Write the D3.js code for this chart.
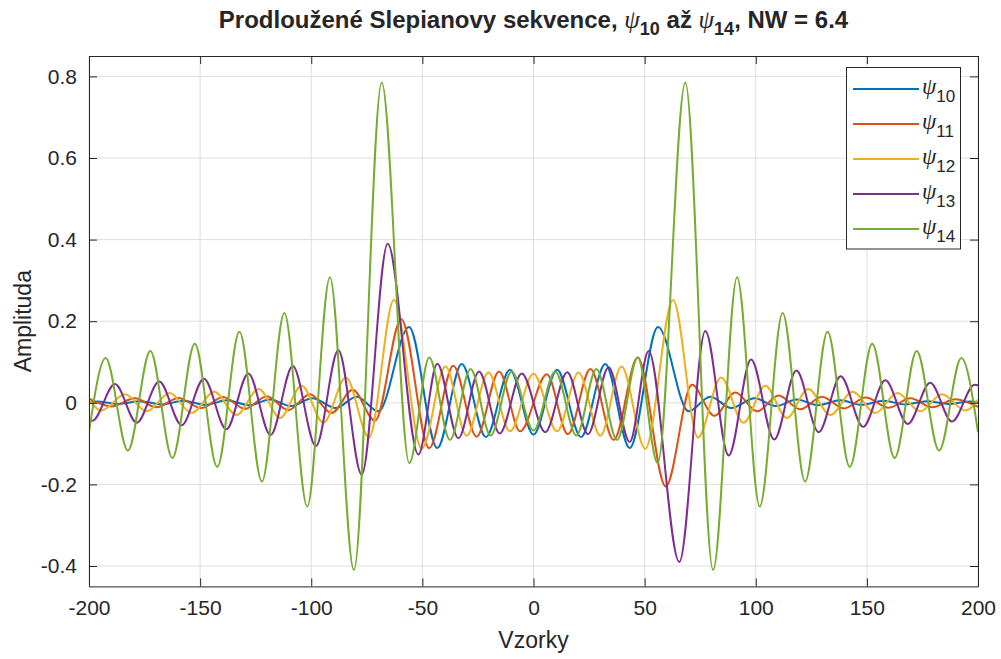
<!DOCTYPE html>
<html><head><meta charset="utf-8">
<script src="https://cdn.jsdelivr.net/npm/d3@7"></script>
<style>
body{margin:0;background:#fff}
svg{display:block}
text{font-family:"Liberation Sans",Arial,sans-serif;fill:#262626}
</style>
</head><body>
<svg id="chart" width="1001" height="659"></svg>
<script>
// ---------- data (extrema of each sequence) ----------
const xTicks = [-200, -150, -100, -50, 0, 50, 100, 150, 200];
const yTicks = [-0.4, -0.2, 0, 0.2, 0.4, 0.6, 0.8];
const xTickLabels = ["-200", "-150", "-100", "-50", "0", "50", "100", "150", "200"];
const yTickLabels = ["-0.4", "-0.2", "0", "0.2", "0.4", "0.6", "0.8"];
const seriesSubscripts = ["10", "11", "12", "13", "14"];
const seriesColors = ["#0072BD", "#D95319", "#EDB120", "#7E2F8E", "#77AC30"];

const psi10X = [-200,-196.5,-186.6,-177,-167.2,-157.5,-147.6,-138,-128,-118.5,-109,-99.5,-89,-79.5,-69.8,-56,-43.3,-32.3,-21.4,-10.6,0,10.6,21.4,32.3,43.3,56,69.8,79.5,89,99.5,109,118.5,128,138,147.6,157.5,167.2,177,186.6,196.5,200];
const psi10Y = [0.002,0.003,-0.003,0.004,-0.004,0.005,-0.005,0.006,-0.006,0.008,-0.008,0.011,-0.013,0.015,-0.021,0.186,-0.111,0.095,-0.084,0.081,-0.078,0.081,-0.084,0.095,-0.111,0.186,-0.021,0.015,-0.013,0.011,-0.008,0.008,-0.006,0.006,-0.005,0.005,-0.004,0.004,-0.003,0.003,0.002];

const psi11X = [-200,-189.8,-179.4,-169.6,-159.8,-149.5,-139.6,-129.8,-120,-110.3,-100.6,-90.8,-81.4,-71.3,-59.5,-46.9,-36.1,-25.6,-15.5,-6,6,15.5,25.6,36.1,46.9,59.5,71.3,81.4,90.8,100.6,110.3,120,129.8,139.6,149.5,159.8,169.6,179.4,189.8,200];
const psi11Y = [0.010,-0.009,0.011,-0.011,0.012,-0.013,0.014,-0.015,0.016,-0.018,0.021,-0.025,0.032,-0.044,0.205,-0.111,0.091,-0.083,0.077,-0.070,0.070,-0.077,0.083,-0.091,0.111,-0.205,0.044,-0.032,0.025,-0.021,0.018,-0.016,0.015,-0.014,0.013,-0.012,0.011,-0.011,0.009,-0.010];

const psi12X = [-200,-194.4,-183.8,-174,-163.7,-153.8,-143.6,-133.6,-123.6,-114,-104.3,-94.5,-84.4,-74,-62.8,-50.3,-39.6,-30.1,-20.3,-10.6,0,10.6,20.3,30.1,39.6,50.3,62.8,74,84.4,94.5,104.3,114,123.6,133.6,143.6,153.8,163.7,174,183.8,194.4,200];
const psi12Y = [0.008,-0.019,0.021,-0.021,0.024,-0.025,0.027,-0.030,0.034,-0.037,0.042,-0.049,0.062,-0.085,0.252,-0.113,0.089,-0.081,0.074,-0.070,0.071,-0.070,0.074,-0.081,0.089,-0.113,0.252,-0.085,0.062,-0.049,0.042,-0.037,0.034,-0.030,0.027,-0.025,0.024,-0.021,0.021,-0.019,0.008];

const psi13X = [-200,-198.5,-188.3,-178.5,-168.4,-158.3,-148.3,-138.2,-128.3,-118.3,-108.3,-97.9,-87.8,-77.3,-65.6,-51.8,-43.3,-33.8,-24.5,-15.2,-5.3,5.3,15.2,24.5,33.8,43.3,51.8,65.6,77.3,87.8,97.9,108.3,118.3,128.3,138.2,148.3,158.3,168.4,178.5,188.3,198.5,200];
const psi13Y = [-0.043,-0.044,0.046,-0.049,0.052,-0.055,0.059,-0.065,0.072,-0.079,0.090,-0.106,0.129,-0.176,0.390,-0.127,0.096,-0.087,0.077,-0.075,0.072,-0.072,0.075,-0.077,0.087,-0.096,0.127,-0.390,0.176,-0.129,0.106,-0.090,0.079,-0.072,0.065,-0.059,0.055,-0.052,0.049,-0.046,0.044,0.043];

const psi14X = [-200,-192.5,-182.5,-172.4,-162.5,-152.4,-142.3,-132.3,-122.2,-112.1,-101.8,-91.6,-80.8,-68.3,-55.9,-46.9,-37.6,-28.3,-19.3,-9.8,0,9.8,19.3,28.3,37.6,46.9,55.9,68.3,80.8,91.6,101.8,112.1,122.2,132.3,142.3,152.4,162.5,172.4,182.5,192.5,200];
const psi14Y = [-0.072,0.110,-0.117,0.127,-0.135,0.145,-0.157,0.174,-0.193,0.220,-0.254,0.308,-0.410,0.785,-0.148,0.111,-0.091,0.083,-0.080,0.077,-0.068,0.077,-0.080,0.083,-0.091,0.111,-0.148,0.785,-0.410,0.308,-0.254,0.220,-0.193,0.174,-0.157,0.145,-0.135,0.127,-0.117,0.110,-0.072];

const seriesX = [psi10X, psi11X, psi12X, psi13X, psi14X];
const seriesY = [psi10Y, psi11Y, psi12Y, psi13Y, psi14Y];

// ---------- layout ----------
const svg = d3.select("#chart");
const L = 89, R = 978, T = 56, B = 586.4;
const x = d3.scaleLinear().domain([-200, 200]).range([L, R]);
const y = d3.scaleLinear().domain([-0.45, 0.85]).range([B, T]);
const axisColor = "#262626";

svg.append("rect").attr("x", 0).attr("y", 0).attr("width", 1001).attr("height", 659).attr("fill", "#fff");

// grid
const grid = svg.append("g");
grid.selectAll(".gx").data(xTicks).join("line")
  .attr("x1", d => x(d)).attr("x2", d => x(d)).attr("y1", T).attr("y2", B)
  .attr("stroke", "#dfdfdf").attr("stroke-width", 1);
grid.selectAll(".gy").data(yTicks).join("line")
  .attr("y1", d => y(d)).attr("y2", d => y(d)).attr("x1", L).attr("x2", R)
  .attr("stroke", "#dfdfdf").attr("stroke-width", 1);

// series
svg.append("defs").append("clipPath").attr("id", "clip")
  .append("rect").attr("x", L).attr("y", T).attr("width", R - L).attr("height", B - T);
const line = d3.line().x(d => x(d[0])).y(d => y(d[1])).curve(d3.curveMonotoneX);
const plot = svg.append("g").attr("clip-path", "url(#clip)");
seriesX.forEach((xs, i) => {
  const pts = xs.map((v, j) => [v, seriesY[i][j]]);
  plot.append("path").datum(pts).attr("d", line)
    .attr("fill", "none").attr("stroke", seriesColors[i]).attr("stroke-width", 2)
    .attr("stroke-linejoin", "round");
});

// axes (box with inward ticks, MATLAB style)
const tickLen = 8;
const xAxisB = d3.axisBottom(x).tickValues(xTicks).tickSizeInner(-tickLen).tickSizeOuter(0).tickPadding(14)
  .tickFormat((d, i) => xTickLabels[i]);
const xAxisT = d3.axisTop(x).tickValues(xTicks).tickSizeInner(-tickLen).tickSizeOuter(0).tickFormat("");
const yAxisL = d3.axisLeft(y).tickValues(yTicks).tickSizeInner(-tickLen).tickSizeOuter(0).tickPadding(12)
  .tickFormat((d, i) => yTickLabels[i]);
const yAxisR = d3.axisRight(y).tickValues(yTicks).tickSizeInner(-tickLen).tickSizeOuter(0).tickFormat("");

function style(g) {
  g.select(".domain").attr("stroke", axisColor).attr("stroke-width", 1);
  g.selectAll(".tick line").attr("stroke", axisColor).attr("stroke-width", 1);
  g.selectAll(".tick text").attr("fill", axisColor).style("font-size", "21px")
    .style("font-family", '"Liberation Sans",Arial,sans-serif');
}
svg.append("g").attr("transform", `translate(0,${B})`).call(xAxisB).call(style);
svg.append("g").attr("transform", `translate(0,${T})`).call(xAxisT).call(style);
svg.append("g").attr("transform", `translate(${L},0)`).call(yAxisL).call(style);
svg.append("g").attr("transform", `translate(${R},0)`).call(yAxisR).call(style);

// axis labels
svg.append("text").attr("x", (L + R) / 2).attr("y", 648).attr("text-anchor", "middle")
  .style("font-size", "23px").text("Vzorky");
svg.append("text").attr("transform", `translate(31,${(T + B) / 2}) rotate(-90)`).attr("text-anchor", "middle")
  .style("font-size", "23px").text("Amplituda");

// title
const title = svg.append("text").attr("x", (L + R) / 2).attr("y", 28).attr("text-anchor", "middle")
  .style("font-size", "24px").style("font-weight", "bold").attr("fill", "#000");
title.append("tspan").text("Prodloužené Slepianovy sekvence, ");
title.append("tspan").style("font-family", '"Liberation Serif","Times New Roman",serif').style("font-style", "italic").style("font-weight", "normal").style("font-size", "25px").text("ψ");
title.append("tspan").attr("dy", 7).style("font-size", "18px").text("10");
title.append("tspan").attr("dy", -7).text(" až ");
title.append("tspan").style("font-family", '"Liberation Serif","Times New Roman",serif').style("font-style", "italic").style("font-weight", "normal").style("font-size", "25px").text("ψ");
title.append("tspan").attr("dy", 7).style("font-size", "18px").text("14");
title.append("tspan").attr("dy", -7).text(", NW = 6.4");

// legend
const lg = svg.append("g");
lg.append("rect").attr("x", 846.5).attr("y", 67.5).attr("width", 114).attr("height", 181.5)
  .attr("fill", "#fff").attr("stroke", axisColor).attr("stroke-width", 1);
seriesSubscripts.forEach((s, i) => {
  const yy = 89 + i * 35;
  lg.append("line").attr("x1", 853).attr("x2", 919).attr("y1", yy).attr("y2", yy)
    .attr("stroke", seriesColors[i]).attr("stroke-width", 2);
  const t = lg.append("text").attr("x", 922).attr("y", yy + 5).attr("fill", "#000");
  t.append("tspan").style("font-family", '"Liberation Serif","Times New Roman",serif').style("font-style", "italic").style("font-size", "23px").text("ψ");
  t.append("tspan").attr("dy", 8).style("font-size", "17px").text(s);
});
</script>
</body></html>
